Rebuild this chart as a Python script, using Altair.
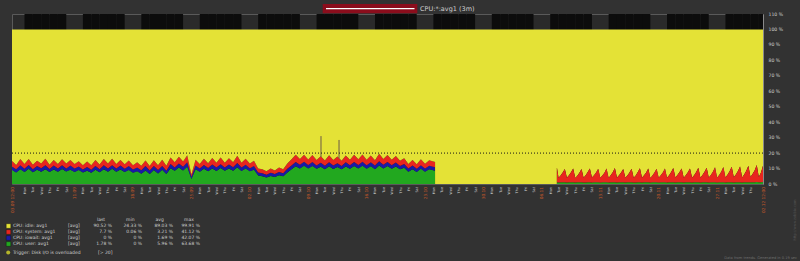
import altair as alt
import pandas as pd

# ---------------- data ----------------
START = pd.Timestamp("2016-09-03 12:00", tz="UTC")   # period start (Saturday 12:00)
PERIOD_DAYS = 90                                      # "3m" period
DAY_MS = 86400000

# segment 1: samples every 12 h (t = 0 ... 50 d) plus the last one at 50.7 d
seg1_user = [
    9.0, 7.5, 9.5, 7.8, 9.8, 7.6, 9.2, 8.0, 9.6, 7.7,
    9.4, 7.9, 9.7, 8.1, 9.3, 7.8, 9.0, 7.4, 8.6, 7.2,
    9.2, 7.6, 9.5, 7.9, 9.8, 8.0, 9.4, 7.7, 9.0, 7.2,
    8.2, 6.6, 8.8, 6.4, 9.0, 6.8, 9.2, 6.5, 10.2, 8.5,
    10.6, 8.8, 11.2, 3.2, 9.5, 8.0, 9.8, 8.2, 10.0, 8.4,
    10.3, 8.5, 10.0, 8.6, 10.8, 8.4, 10.0, 8.2, 9.2, 5.5,
    5.0, 4.2, 5.2, 4.5, 5.6, 5.0, 7.5, 9.5, 11.5, 10.0,
    11.8, 10.0, 11.6, 9.8, 11.2, 9.6, 11.5, 9.7, 11.0, 9.5,
    11.4, 9.8, 11.6, 10.0, 11.8, 9.9, 11.5, 9.6, 12.0, 10.0,
    11.7, 9.8, 11.4, 9.5, 10.5, 8.0, 9.6, 7.8, 9.8, 7.9,
    9.5, 8.6,
]
seg1_iowait = [
    2.4, 2.0, 2.6, 2.1, 2.5, 2.0, 2.4, 2.2, 2.6, 2.0,
    2.5, 2.1, 2.4, 2.0, 2.6, 2.2, 2.3, 2.0, 2.4, 2.1,
    2.5, 2.0, 2.6, 2.2, 2.4, 2.0, 2.5, 2.1, 2.6, 2.2,
    2.4, 2.3, 2.8, 2.4, 2.6, 2.2, 2.5, 2.1, 2.7, 2.2,
    2.6, 2.3, 2.8, 1.5, 2.4, 2.0, 2.5, 2.1, 2.6, 2.2,
    2.5, 2.1, 2.6, 2.2, 2.8, 2.2, 2.5, 2.0, 2.4, 2.0,
    2.0, 1.8, 2.1, 1.9, 2.2, 2.0, 2.4, 2.5, 2.8, 2.4,
    2.6, 2.3, 2.7, 2.2, 2.5, 2.2, 2.6, 2.3, 2.5, 2.2,
    2.6, 2.4, 2.7, 2.3, 2.6, 2.2, 2.5, 2.3, 2.8, 2.4,
    2.6, 2.3, 2.5, 2.2, 2.4, 2.0, 2.3, 2.0, 2.4, 2.1,
    2.3, 2.2,
]
seg1_system = [
    3.6, 2.8, 4.0, 3.0, 3.8, 2.9, 3.5, 3.1, 4.1, 2.8,
    3.7, 3.0, 3.9, 3.1, 3.6, 2.9, 3.4, 2.8, 3.5, 2.9,
    3.8, 3.0, 4.0, 3.2, 4.1, 3.0, 3.7, 2.9, 3.6, 2.8,
    3.4, 2.9, 3.6, 2.8, 3.8, 3.1, 4.0, 3.2, 4.3, 3.3,
    4.4, 3.4, 4.6, 1.5, 3.8, 3.0, 4.0, 3.1, 4.2, 3.2,
    4.3, 3.2, 4.1, 3.3, 4.6, 3.1, 3.9, 3.0, 3.5, 2.6,
    2.6, 2.3, 2.7, 2.4, 2.8, 2.6, 3.4, 4.0, 4.6, 3.8,
    4.5, 3.6, 4.4, 3.5, 4.2, 3.4, 4.5, 3.6, 4.3, 3.4,
    4.4, 3.5, 4.6, 3.7, 4.7, 3.6, 4.4, 3.5, 4.8, 3.7,
    4.5, 3.6, 4.2, 3.4, 3.8, 3.0, 3.7, 3.0, 3.8, 3.1,
    3.6, 3.4,
]
seg1_end_day = 50.7

# segment 2: everything idle
gap_days = [50.701, 65.299]
gap_idle = [100.0, 100.0]

# segment 3: first sample at 65.3 d, then every 6 h from 65.5 d to 90 d
seg3_first_day = 65.3
seg3_grid_start = 65.5
seg3_system = [
    9.6,
    3.0, 4.4, 6.2, 8.6,  3.1, 4.5, 6.4, 8.9,  2.9, 4.3, 6.1, 8.5,  3.0, 4.6, 6.5, 9.0,
    3.2, 4.5, 6.3, 8.7,  3.0, 4.4, 6.2, 8.8,  2.9, 4.5, 6.4, 9.1,  3.1, 4.6, 6.3, 8.6,
    3.0, 4.4, 6.2, 8.8,  3.1, 4.5, 6.5, 9.0,  3.0, 4.6, 6.4, 8.9,  2.9, 4.4, 6.2, 8.7,
    3.1, 4.5, 6.3, 8.8,  3.0, 4.6, 6.6, 9.2,  3.2, 4.7, 6.5, 9.0,  3.0, 4.5, 6.4, 8.9,
    3.1, 4.6, 6.6, 9.3,  3.0, 4.7, 6.7, 9.4,  3.2, 4.8, 6.8, 9.6,  3.1, 4.7, 6.9, 9.8,
    3.2, 4.9, 7.0, 10.0, 3.3, 5.0, 7.2, 10.3, 3.2, 5.1, 7.4, 10.6, 3.4, 5.3, 7.6, 11.0,
    3.4, 6.0, 10.5,
]
seg3_user = [
    1.1,
    1.0, 1.1, 1.2, 1.1,  1.0, 1.1, 1.2, 1.2,  1.0, 1.1, 1.1, 1.2,  1.0, 1.0, 1.2, 1.1,
    1.0, 1.1, 1.2, 1.1,  1.0, 1.1, 1.1, 1.2,  1.0, 1.1, 1.2, 1.2,  1.0, 1.1, 1.1, 1.1,
    1.0, 1.1, 1.2, 1.1,  1.0, 1.0, 1.2, 1.2,  1.0, 1.1, 1.1, 1.1,  1.0, 1.1, 1.2, 1.1,
    1.0, 1.1, 1.2, 1.2,  1.0, 1.1, 1.1, 1.1,  1.0, 1.1, 1.2, 1.1,  1.0, 1.1, 1.2, 1.2,
    1.0, 1.1, 1.1, 1.2,  1.0, 1.1, 1.2, 1.1,  1.0, 1.1, 1.2, 1.2,  1.0, 1.1, 1.1, 1.2,
    1.0, 1.1, 1.2, 1.2,  1.0, 1.1, 1.2, 1.1,  1.0, 1.1, 1.2, 1.2,  1.1, 1.1, 1.2, 1.3,
    1.1, 1.2, 1.3,
]

# short spikes in segment 1
spike_days = [37.03, 39.19]
spike_low = [17.5, 16.5]
spike_high = [31.0, 28.5]

trigger_threshold = [20]

series_names = ["idle", "system", "iowait", "user"]
legend_names = ["CPU: idle: avg1", "CPU: system: avg1", "CPU: iowait: avg1", "CPU: user: avg1"]
legend_func = ["[avg]", "[avg]", "[avg]", "[avg]"]
legend_last = ["90.52 %", "7.7 %", "0 %", "1.78 %"]
legend_min = ["24.33 %", "0.06 %", "0 %", "0 %"]
legend_avg = ["89.03 %", "3.21 %", "1.69 %", "5.96 %"]
legend_max = ["99.91 %", "41.12 %", "42.07 %", "63.68 %"]
legend_headers = ["last", "min", "avg", "max"]
trigger_label = ["Trigger: Disk I/O is overloaded"]
trigger_cond = ["[> 20]"]
title_text = ["CPU:*:avg1 (3m)"]
footer_text = ["Data from trends. Generated in 0.19 sec"]
side_text = ["http://www.zabbix.com"]

# ---------------- build tables ----------------
start_ms = int(START.value // 10**6)
end_ms = start_ms + PERIOD_DAYS * DAY_MS


def to_ms(d):
    return start_ms + d * DAY_MS


rows = []
seg1_days = [0.5 * k for k in range(101)] + [seg1_end_day]
for d, u, i, s in zip(seg1_days, seg1_user, seg1_iowait, seg1_system):
    ms = to_ms(d)
    rows += [
        dict(ms=ms, series="user", seg="a", lo=0.0, hi=u),
        dict(ms=ms, series="iowait", seg="a", lo=u, hi=u + i),
        dict(ms=ms, series="system", seg="a", lo=u + i, hi=u + i + s),
        dict(ms=ms, series="idle", seg="a", lo=u + i + s, hi=100.0),
    ]
for d, v in zip(gap_days, gap_idle):
    rows.append(dict(ms=to_ms(d), series="idle", seg="b", lo=100.0 - v, hi=100.0))
seg3_days = [seg3_first_day] + [seg3_grid_start + 0.25 * j for j in range(len(seg3_system) - 1)]
for d, u, s in zip(seg3_days, seg3_user, seg3_system):
    ms = to_ms(d)
    rows += [
        dict(ms=ms, series="user", seg="c", lo=0.0, hi=u),
        dict(ms=ms, series="system", seg="c", lo=u, hi=u + s),
        dict(ms=ms, series="idle", seg="c", lo=u + s, hi=100.0),
    ]
area_df = pd.DataFrame(rows)
# idle is drawn as one continuous band (no seams between segments)
area_df["key"] = area_df["series"] + area_df["seg"].where(area_df["series"] != "idle", "")

spike_df = pd.DataFrame({"ms": [to_ms(d) for d in spike_days], "lo": spike_low, "hi": spike_high})
trig_df = pd.DataFrame({"v": trigger_threshold})

# working-day stripes (Mon-Fri) behind the graph
days = pd.date_range(START.normalize(), periods=PERIOD_DAYS + 2, freq="D")
stripe_rows = []
for day in days:
    if day.dayofweek < 5:
        a = max(int(day.value // 10**6), start_ms)
        b = min(int(day.value // 10**6) + DAY_MS, end_ms)
        if b > a:
            stripe_rows.append(dict(t0=a, t1=b))
stripe_df = pd.DataFrame(stripe_rows)

# x-axis tick values: midnights (the first and last one dropped, as in the reference) + period ends
tick_vals = [start_ms] + [to_ms(k + 0.5) for k in range(1, PERIOD_DAYS - 1)] + [end_ms]

legend_df = pd.DataFrame({
    "row": list(range(4)), "series": series_names, "name": legend_names, "func": legend_func,
    "last": legend_last, "min": legend_min, "avg": legend_avg, "max": legend_max,
})
header_df = pd.DataFrame({"h": legend_headers, "col": list(range(4))})

# ---------------- styles ----------------
W, H = 751, 170
FONT = "DejaVu Sans"
TXT = "#cfcfcf"
ORANGE = "#c0582a"
color_scale = alt.Scale(domain=["idle", "system", "iowait", "user"],
                        range=["#e4e236", "#e8261e", "#1a1aa6", "#22a81f"])
xscale = alt.Scale(type="utc", domain=[start_ms, end_ms])
yscale = alt.Scale(domain=[0, 110], nice=False, zero=True)

is_main = "utchours(datum.value) == 12 || utcday(datum.value) == 0"
x_axis = alt.Axis(
    values=tick_vals,
    labelExpr=("utchours(datum.value) == 12 ? utcFormat(datum.value, '%d.%m %H:%M') : "
               "(utcday(datum.value) == 0 ? utcFormat(datum.value, '%d.%m') : utcFormat(datum.value, '%a'))"),
    labelAngle=270, labelFont=FONT,
    labelFontSize={"condition": {"test": is_main, "value": 4.3}, "value": 3.4},
    labelColor={"condition": {"test": is_main, "value": ORANGE}, "value": "#d4d4d4"},
    labelPadding=2.5, labelOverlap=False, labelFlush=False, labelBound=False,
    ticks=False, domain=False, grid=False, title=None,
)
y_axis = alt.Axis(
    orient="right", values=list(range(0, 111, 10)), labelExpr="datum.value + ' %'",
    labelFont=FONT, labelFontSize=4.6, labelColor=TXT, labelPadding=5,
    ticks=False, domain=True, domainColor="#8a8a8a", grid=False, title=None,
)

stripes = alt.Chart(stripe_df).mark_rect(color="#0c0c0c").encode(
    x=alt.X("t0:T", scale=xscale, axis=x_axis), x2="t1:T",
    y=alt.value(0), y2=alt.value(H),
)

areas = alt.Chart(area_df).mark_area(interpolate="linear", clip=True).encode(
    x=alt.X("ms:T", scale=xscale, axis=None),
    y=alt.Y("hi:Q", scale=yscale, stack=None, axis=y_axis),
    y2="lo:Q",
    color=alt.Color("series:N", scale=color_scale, legend=None),
    detail="key:N",
)

spikes = alt.Chart(spike_df).mark_rule(color="#6b5a48", strokeWidth=1).encode(
    x=alt.X("ms:T", scale=xscale, axis=None),
    y=alt.Y("hi:Q", scale=yscale, axis=None), y2="lo:Q",
)

trigger = alt.Chart(trig_df).mark_rule(color="#151515", strokeWidth=1, strokeDash=[1, 2]).encode(
    y=alt.Y("v:Q", scale=yscale, axis=None), x=alt.value(0), x2=alt.value(W),
)

# ---- header (title) ----
one = pd.DataFrame({"t": title_text})
title_box = alt.Chart(one).mark_rect(color="#8b0d1c").encode(
    x=alt.value(310.7), x2=alt.value(405.3), y=alt.value(-10), y2=alt.value(-0.7))
title_line = alt.Chart(one).mark_rule(color="#ffffff", strokeWidth=1.4).encode(
    x=alt.value(314), x2=alt.value(402.5), y=alt.value(-5.4))
title = alt.Chart(one).mark_text(align="left", baseline="middle", font=FONT, fontSize=6.5,
                                 color=TXT).encode(x=alt.value(408), y=alt.value(-5.3), text="t:N")

# ---- legend table ----
row_y = alt.Y("row:Q", scale=alt.Scale(domain=[0, 3], range=[212, 230]), axis=None)


def legend_col(field, xpos, align):
    return alt.Chart(legend_df).mark_text(align=align, baseline="middle", font=FONT,
                                          fontSize=4.5, color=TXT).encode(
        x=alt.value(xpos), y=row_y, text=f"{field}:N")


swatches = alt.Chart(legend_df).mark_square(size=22, opacity=1, stroke="#151515",
                                            strokeWidth=0.5).encode(
    x=alt.value(-3.5), y=row_y,
    color=alt.Color("series:N", scale=color_scale, legend=None))
headers = alt.Chart(header_df).mark_text(align="center", baseline="middle", font=FONT,
                                         fontSize=4.5, color=TXT).encode(
    x=alt.X("col:Q", scale=alt.Scale(domain=[0, 3], range=[89, 177]), axis=None),
    y=alt.value(206), text="h:N")

trig_df2 = pd.DataFrame({"a": trigger_label, "b": trigger_cond})
trig_dot = alt.Chart(trig_df2).mark_circle(size=16, color="#b5b52a", opacity=1).encode(
    x=alt.value(-3.8), y=alt.value(238.5))
trig_txt = alt.Chart(trig_df2).mark_text(align="left", baseline="middle", font=FONT,
                                         fontSize=4.5, color=TXT).encode(
    x=alt.value(1), y=alt.value(238.5), text="a:N")
trig_cond_txt = alt.Chart(trig_df2).mark_text(align="left", baseline="middle", font=FONT,
                                              fontSize=4.5, color=TXT).encode(
    x=alt.value(86), y=alt.value(238.5), text="b:N")

footer = alt.Chart(pd.DataFrame({"t": footer_text})).mark_text(
    align="right", baseline="middle", font=FONT, fontSize=3.6, color="#6e6e6e").encode(
    x=alt.value(785), y=alt.value(243.5), text="t:N")
side = alt.Chart(pd.DataFrame({"t": side_text})).mark_text(
    align="center", baseline="middle", font=FONT, fontSize=3.6, color="#555555", angle=270).encode(
    x=alt.value(783), y=alt.value(206), text="t:N")

chart = alt.layer(
    stripes, areas, spikes, trigger,
    title_box, title_line, title,
    swatches,
    legend_col("name", 1, "left"), legend_col("func", 56, "left"),
    legend_col("last", 100, "right"), legend_col("min", 130, "right"),
    legend_col("avg", 161, "right"), legend_col("max", 188, "right"),
    headers, trig_dot, trig_txt, trig_cond_txt, footer, side,
).resolve_scale(y="independent", x="independent").properties(
    width=W, height=H,
    autosize=alt.AutoSizeParams(type="none"),
    padding={"left": 12, "top": 14, "right": 37, "bottom": 77},
    background="#323232",
).configure_view(fill="#2a2a2a", stroke="#5a5a5a", strokeWidth=1)

chart.save("out.html", embed_options={"renderer": "svg", "actions": False})
